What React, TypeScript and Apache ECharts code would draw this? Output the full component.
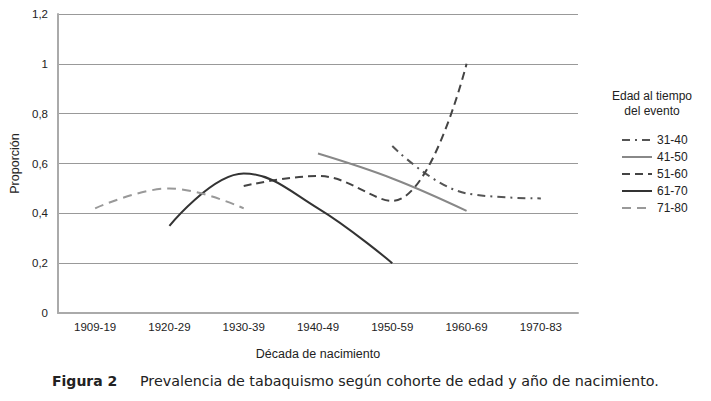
import React, { useEffect, useRef } from "react";
import * as echarts from "echarts";

const categories = ["1909-19", "1920-29", "1930-39", "1940-49", "1950-59", "1960-69", "1970-83"];
const seriesNames = ["31-40", "41-50", "51-60", "61-70", "71-80"];
const s3140 = [null, null, null, null, 0.67, 0.48, 0.46];
const s4150 = [null, null, null, 0.64, 0.54, 0.41, null];
const s5160 = [null, null, 0.51, 0.55, 0.45, 1.0, null];
const s6170 = [null, 0.35, 0.56, 0.42, 0.2, null, null];
const s7180 = [0.42, 0.5, 0.42, null, null, null, null];
const yTicks = [0, 0.2, 0.4, 0.6, 0.8, 1, 1.2];

const FONT = "'Liberation Sans', Arial, sans-serif";

export default function App() {
  const ref = useRef<HTMLDivElement>(null);
  useEffect(() => {
    const chart = echarts.init(ref.current!, null, { renderer: "svg" });
    const mk = (name: string, data: (number | null)[], color: string, type: any) => ({
      name,
      type: "line",
      data,
      smooth: 0.4,
      symbol: "none",
      showSymbol: false,
      connectNulls: false,
      lineStyle: { color, width: 2, type },
      itemStyle: { color },
    });
    chart.setOption({
      animation: false,
      backgroundColor: "#fff",
      textStyle: { fontFamily: FONT },
      grid: { left: 58, right: 133, top: 14, bottom: 88 },
      xAxis: {
        type: "category",
        data: categories,
        boundaryGap: true,
        axisLine: { show: true, lineStyle: { color: "#aaa", width: 2 } },
        axisTick: { show: false },
        axisLabel: { color: "#222", fontSize: 11.5, margin: 8, fontFamily: FONT, interval: 0 },
        name: "Década de nacimiento",
        nameLocation: "middle",
        nameGap: 34,
        nameTextStyle: { color: "#222", fontSize: 12.5, fontFamily: FONT },
      },
      yAxis: {
        type: "value",
        min: yTicks[0],
        max: yTicks[yTicks.length - 1],
        interval: 0.2,
        axisLine: { show: true, lineStyle: { color: "#aaa", width: 2 } },
        axisTick: { show: false },
        splitLine: { show: true, lineStyle: { color: "#999", width: 1 } },
        axisLabel: {
          color: "#222",
          fontSize: 11.5,
          margin: 10,
          fontFamily: FONT,
          formatter: (v: number) => String(Math.round(v * 10) / 10).replace(".", ","),
        },
        name: "Proporción",
        nameLocation: "middle",
        nameGap: 34,
        nameTextStyle: { color: "#222", fontSize: 12.5, fontFamily: FONT },
      },
      legend: {
        orient: "vertical",
        left: 616,
        top: 129,
        itemWidth: 30,
        itemHeight: 14,
        itemGap: 5,
        data: seriesNames,
        itemStyle: { opacity: 0 },
        textStyle: { color: "#222", fontSize: 12, fontFamily: FONT },
      },
      graphic: [
        {
          type: "text",
          x: 652,
          y: 103,
          style: {
            text: "Edad al tiempo\ndel evento",
            fill: "#222",
            font: "12px 'Liberation Sans', Arial, sans-serif",
            align: "center",
            verticalAlign: "middle",
            lineHeight: 15,
          },
        },
        {
          type: "text",
          x: 52,
          y: 381,
          style: {
            text: "Figura 2",
            fill: "#222",
            font: "bold 14px 'DejaVu Sans', Verdana, sans-serif",
            verticalAlign: "middle",
          },
        },
        {
          type: "text",
          x: 140,
          y: 381,
          style: {
            text: "Prevalencia de tabaquismo según cohorte de edad y año de nacimiento.",
            fill: "#222",
            font: "14.3px 'DejaVu Sans', Verdana, sans-serif",
            verticalAlign: "middle",
          },
        },
      ],
      series: [
        mk(seriesNames[0], s3140, "#555", [8, 5, 2, 5]),
        mk(seriesNames[1], s4150, "#888", "solid"),
        mk(seriesNames[2], s5160, "#444", [8, 5]),
        mk(seriesNames[3], s6170, "#333", "solid"),
        mk(seriesNames[4], s7180, "#999", [9, 6]),
      ],
    });
    return () => chart.dispose();
  }, []);
  return <div ref={ref} style={{ position: "absolute", left: 0, top: 0, width: 711, height: 401 }} />;
}
